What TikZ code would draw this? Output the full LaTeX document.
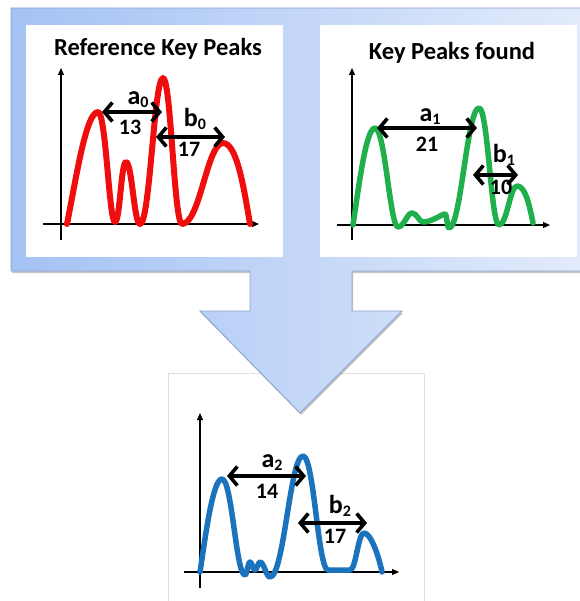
\documentclass[tikz,border=0pt]{standalone}
\usepackage{fontspec}
\setmainfont{Carlito}
\usetikzlibrary{arrows.meta}
\definecolor{sigred}{HTML}{F00D0D}
\definecolor{siggreen}{HTML}{1FAF4B}
\definecolor{sigblue}{HTML}{1B73BE}
\definecolor{calloutL}{HTML}{A4C2F4}
\definecolor{calloutR}{HTML}{E4ECFB}
\definecolor{calloutEdge}{HTML}{8AA4CE}
\newcommand\lowidx[1]{\raisebox{-3pt}{\fontsize{16}{16}\selectfont#1}}
\begin{document}
\begin{tikzpicture}[x=1pt,y=-1pt,
  axis/.style={line width=1.1pt,-{Triangle[length=7pt,width=6pt]}},
  span/.style={line width=3.6pt,
    {Straight Barb[length=8pt,width=19pt]}-{Straight Barb[length=8pt,width=19pt]}},
  sig/.style={line width=5.5pt,line cap=round,line join=round},
  panel/.style={fill=white},
  title/.style={font=\fontsize{24.5}{24}\selectfont\bfseries,anchor=base,inner sep=0pt},
  lbl/.style={font=\fontsize{26}{26}\selectfont\bfseries,anchor=base,inner sep=0pt},
  num/.style={font=\fontsize{22}{22}\selectfont\bfseries,anchor=base,inner sep=0pt},
]
\useasboundingbox (0,0) rectangle (579,601);
\fill[white] (0,0) rectangle (579,601);

% result panel below the arrow
\draw[panel,draw=black!12] (168,373) rectangle (424,612);

% callout shape: frame with a downward arrow
\fill[black,opacity=.22] (12,10) -- (592,10) -- (592,273) -- (353,273) -- (353,313)
  -- (403,313) -- (301,415) -- (201,313) -- (251,313) -- (251,273) -- (12,273) -- cycle;
\draw[draw=calloutEdge,line width=.8pt,left color=calloutL,right color=calloutR]
  (11,8) -- (592,8) -- (592,271) -- (352,271) -- (352,311) -- (402,311)
  -- (300,413) -- (200,311) -- (250,311) -- (250,271) -- (11,271) -- cycle;

% top panels
\fill[panel] (26,25) rectangle (283,257);
\fill[panel] (320,25) rectangle (577,257);

\node[title] (t1) at (158,56) {Reference Key Peaks};
\node[title] (t2) at (452,60) {Key Peaks found};

% axes
\coordinate (y1b) at (61,240); \coordinate (y1t) at (61,68);
\coordinate (x1l) at (43,224); \coordinate (x1r) at (259,224);
\coordinate (y2b) at (352,240); \coordinate (y2t) at (352,68);
\coordinate (x2l) at (337,225); \coordinate (x2r) at (550,225);
\coordinate (y3b) at (200,588); \coordinate (y3t) at (200,413);
\coordinate (x3l) at (184,572); \coordinate (x3r) at (399,572);
\draw[axis] (y1b) -- (y1t);
\draw[axis] (x1l) -- (x1r);
\draw[axis] (y2b) -- (y2t);
\draw[axis] (x2l) -- (x2r);
\draw[axis] (y3b) -- (y3t);
\draw[axis] (x3l) -- (x3r);

% reference signal
\draw[sig,line width=6pt,sigred] (67,224) .. controls +(9,-45) and +(-12,0) .. (98,112)
  .. controls +(8,0) and +(-6,0) .. (115,222)
  .. controls +(5,0) and +(-5,0) .. (126,162)
  .. controls +(6,0) and +(-6,0) .. (140,224)
  .. controls +(10,0) and +(-9,0) .. (163,78)
  .. controls +(8,0) and +(-8,0) .. (182,224)
  .. controls +(18,0) and +(-16,0) .. (223,143)
  .. controls +(14,0) and +(-6,-35) .. (250,224);

% found signal
\draw[sig,siggreen] (353,225) .. controls +(6,-40) and +(-9,0) .. (375,128)
  .. controls +(10,0) and +(-8,0) .. (398,227)
  .. controls +(6,0) and +(-5,0) .. (412,213)
  .. controls +(5,0) and +(-4,0) .. (423,222)
  .. controls +(9,0) and +(-3,0) .. (445,214)
  .. controls +(2,0) and +(-2,0) .. (449,228)
  .. controls +(12,0) and +(-12,0) .. (479,108)
  .. controls +(9,0) and +(-8,0) .. (499,225)
  .. controls +(8,0) and +(-7,0) .. (517,186)
  .. controls +(8,0) and +(-4,-20) .. (533,223);

% matched signal
\draw[sig,sigblue] (200,572) .. controls +(6,-40) and +(-9,0) .. (222,479)
  .. controls +(10,0) and +(-9,0) .. (245,575)
  .. controls +(2,0) and +(-2,0) .. (250,562)
  .. controls +(2,0) and +(-2,0) .. (255,570)
  .. controls +(2,0) and +(-2,0) .. (260,562)
  .. controls +(4,0) and +(-4,0) .. (270,577)
  .. controls +(14,0) and +(-13,0) .. (303,456)
  .. controls +(11,0) and +(-10,0) .. (328,570)
  -- (350,570)
  .. controls +(6,0) and +(-6,0) .. (364,533)
  .. controls +(7,0) and +(-3,-15) .. (382,572);

% peak distances
\coordinate (a0l) at (102,112); \coordinate (a0r) at (162,112);
\coordinate (b0l) at (156,137); \coordinate (b0r) at (225,137);
\coordinate (a1l) at (377,128); \coordinate (a1r) at (477,128);
\coordinate (b1l) at (473,175); \coordinate (b1r) at (518,175);
\coordinate (a2l) at (227,476); \coordinate (a2r) at (306,476);
\coordinate (b2l) at (298,523); \coordinate (b2r) at (367,523);
\draw[span] (a0l) -- (a0r);
\draw[span] (b0l) -- (b0r);
\draw[span] (a1l) -- (a1r);
\draw[span] (b1l) -- (b1r);
\draw[span] (a2l) -- (a2r);
\draw[span] (b2l) -- (b2r);

\node[lbl] (la0) at (138,105) {a\lowidx{0}};
\node[num] (n13) at (130,135) {13};
\node[lbl] (lb0) at (195,127) {b\lowidx{0}};
\node[num] (n17a) at (189,157) {17};
\node[lbl] (la1) at (430,122) {a\lowidx{1}};
\node[num] (n21) at (427,152) {21};
\node[lbl] (lb1) at (504,163) {b\lowidx{1}};
\node[num] (n10) at (501,195) {10};
\node[lbl] (la2) at (272,467) {a\lowidx{2}};
\node[num] (n14) at (267,498) {14};
\node[lbl] (lb2) at (340,513) {b\lowidx{2}};
\node[num] (n17b) at (335,543) {17};
\end{tikzpicture}
\end{document}
